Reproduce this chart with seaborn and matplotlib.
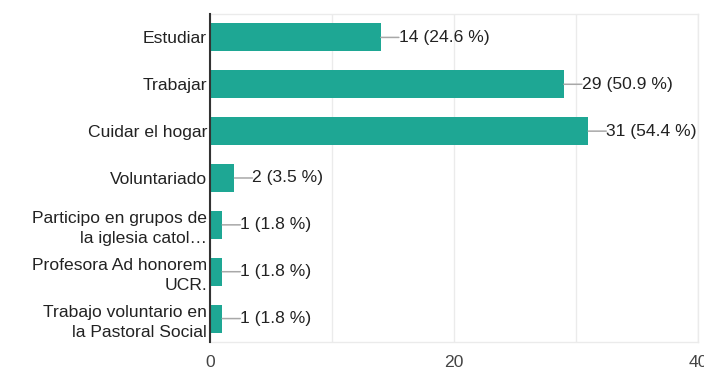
import matplotlib
matplotlib.use("Agg")
import matplotlib.pyplot as plt
import seaborn as sns
import pandas as pd
from matplotlib.ticker import MultipleLocator

categories = [
    "Estudiar",
    "Trabajar",
    "Cuidar el hogar",
    "Voluntariado",
    "Participo en grupos de\nla iglesia catol…",
    "Profesora Ad honorem\nUCR.",
    "Trabajo voluntario en\nla Pastoral Social",
]
counts = [14, 29, 31, 2, 1, 1, 1]
respondents = 57
x_ticks = [0, 20, 40]

df = pd.DataFrame({"actividad": categories, "respuestas": counts})

sns.set_theme(style="white")
plt.rcParams["font.family"] = ["Liberation Sans", "DejaVu Sans"]

FS = 12.6

fig = plt.figure(figsize=(7.04, 3.67), dpi=100)
ax = fig.add_axes([0.2983, 0.0681, 0.6932, 0.8938])

sns.barplot(data=df, x="respuestas", y="actividad", orient="h",
            color="#1ea794", saturation=1, width=0.6, linewidth=0,
            ax=ax, zorder=3)

ax.set_xlim(0, 40)
ax.set_ylim(len(categories) - 0.5, -0.5)
ax.set_xticks(x_ticks)
ax.xaxis.set_minor_locator(MultipleLocator(10))
ax.grid(axis="x", which="both", color="#ebebeb", linewidth=1, zorder=0)
ax.set_xlabel("")
ax.set_ylabel("")

ax.tick_params(axis="x", which="both", length=0, pad=9, labelsize=FS, labelcolor="#444")
ax.tick_params(axis="y", length=0, pad=2, labelsize=FS, labelcolor="#222")
for lbl in ax.get_yticklabels():
    lbl.set_linespacing(1.38)

for side in ("top", "right", "bottom"):
    ax.spines[side].set_color("#ebebeb")
    ax.spines[side].set_linewidth(1)
ax.spines["left"].set_color("#333333")
ax.spines["left"].set_linewidth(1.5)
ax.spines["left"].set_zorder(5)

for i, v in enumerate(counts):
    pct = 100 * v / respondents
    ax.annotate(f"{v} ({pct:.1f} %)", xy=(v, i), xytext=(13, 0),
                textcoords="offset points", ha="left", va="center",
                fontsize=FS, color="#222",
                arrowprops=dict(arrowstyle="-", color="#a8a8a8", lw=1.1,
                                relpos=(0, 0.5), patchA=None,
                                shrinkA=0, shrinkB=0),
                zorder=4)

fig.savefig("out.png", dpi=100)
